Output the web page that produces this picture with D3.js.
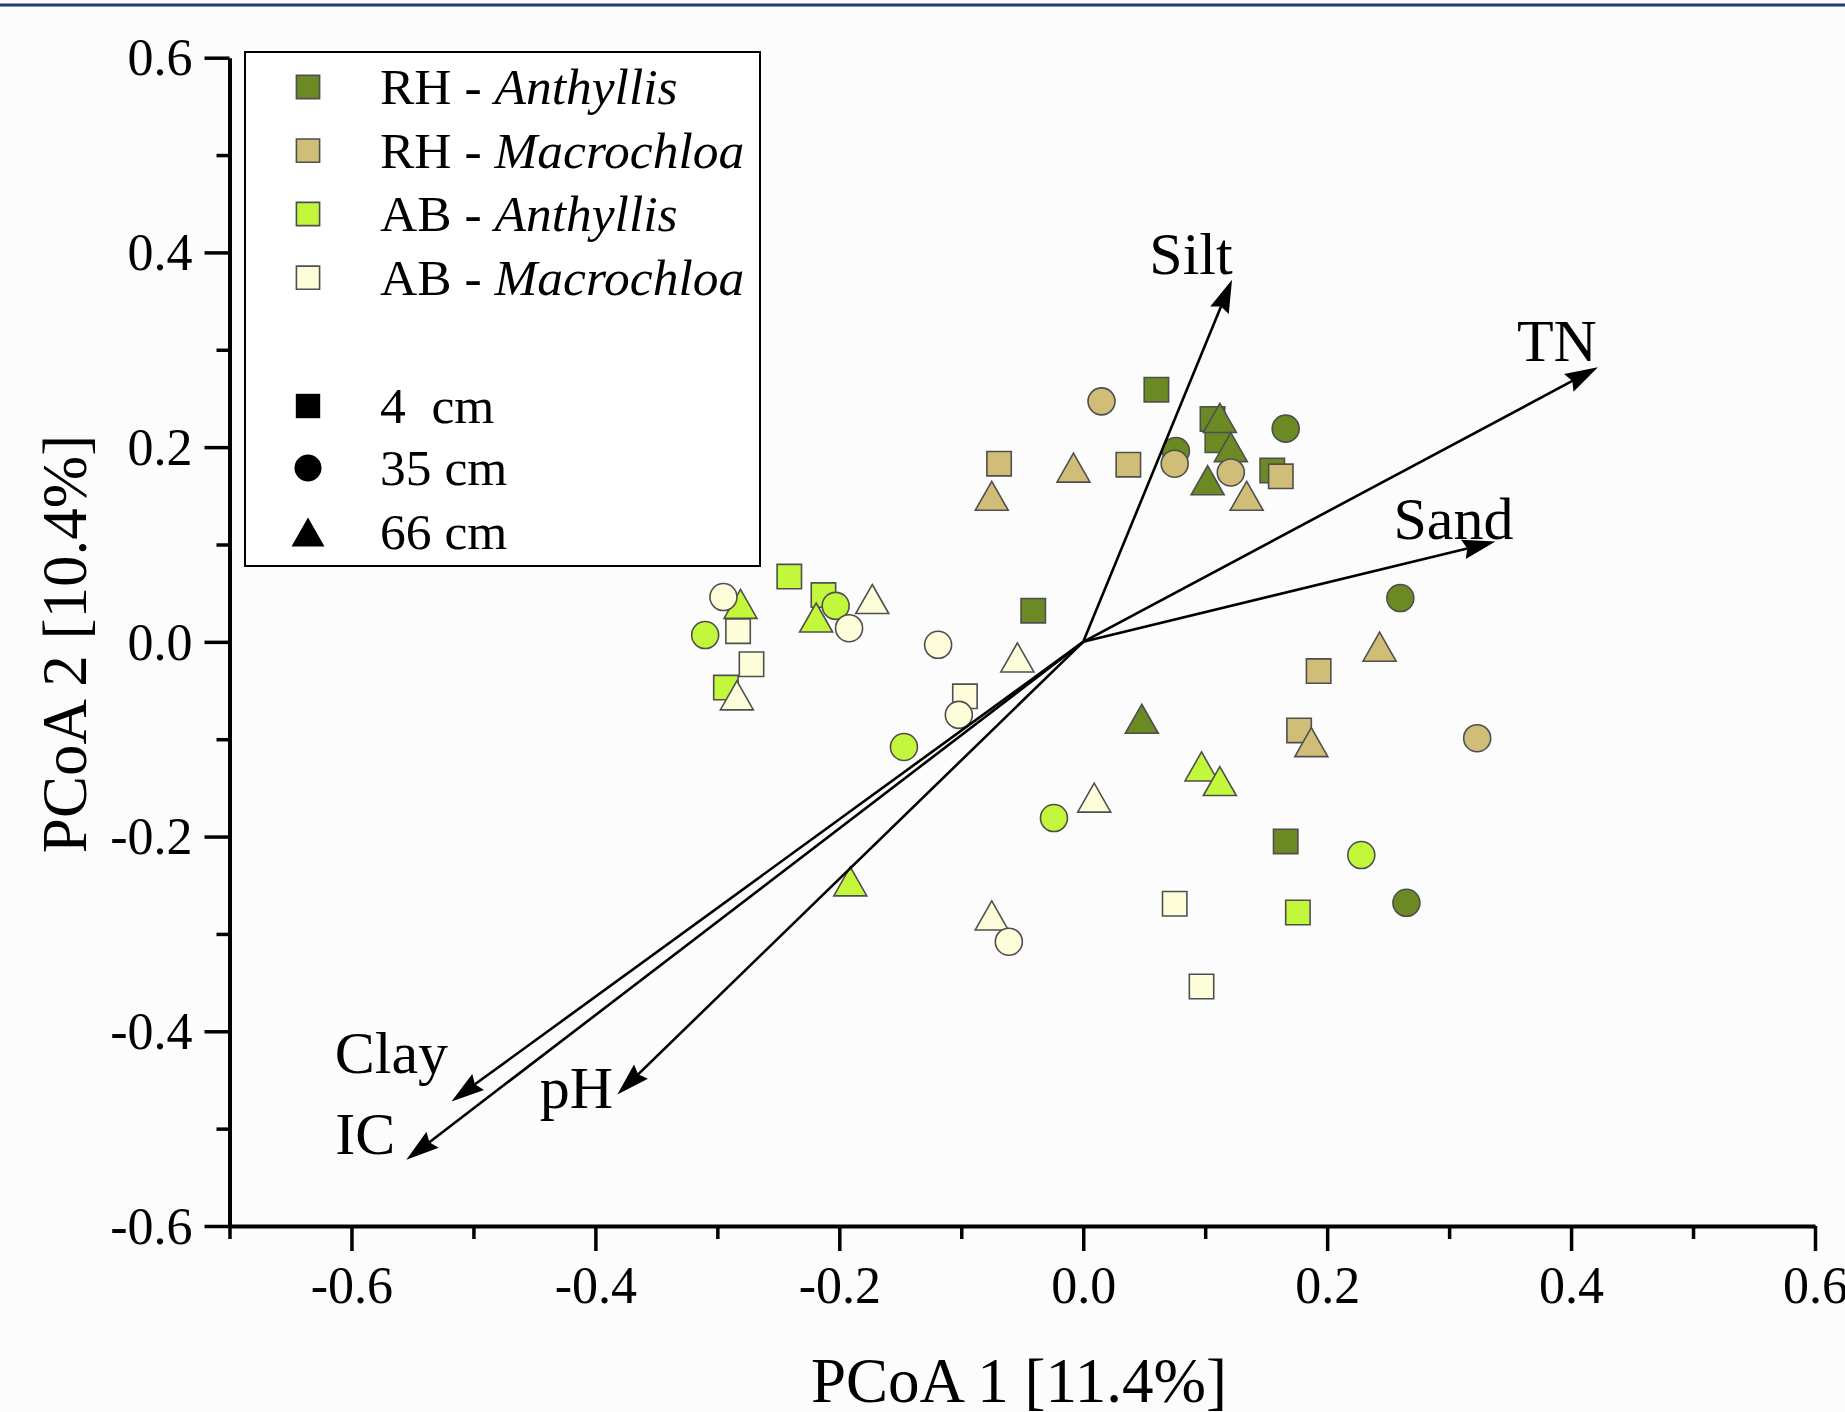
<!DOCTYPE html>
<html>
<head>
<meta charset="utf-8">
<script src="https://cdn.jsdelivr.net/npm/d3@7"></script>
<style>
html, body { margin: 0; padding: 0; background: #fcfcfc; }
svg { display: block; font-family: "Liberation Serif", "Times New Roman", serif; }
</style>
</head>
<body>
<svg id="chart" width="1845" height="1412"></svg>
<script>
// PCoA scores, [PCoA1, PCoA2, depth cm]
const rhAnthyllis = [
    [0.060, 0.259, 4], [0.106, 0.229, 4], [0.110, 0.207, 4], [0.155, 0.176, 4], [-0.041, 0.032, 4], [0.166, -0.205, 4],
    [0.076, 0.196, 35], [0.166, 0.219, 35], [0.260, 0.045, 35], [0.265, -0.268, 35],
    [0.112, 0.230, 66], [0.121, 0.200, 66], [0.102, 0.166, 66], [0.048, -0.079, 66]
];
const rhMacrochloa = [
    [-0.069, 0.183, 4], [0.037, 0.182, 4], [0.162, 0.170, 4], [0.193, -0.030, 4], [0.177, -0.091, 4],
    [-0.008, 0.179, 66], [-0.075, 0.150, 66], [0.134, 0.150, 66], [0.243, -0.005, 66], [0.187, -0.103, 66],
    [0.015, 0.247, 35], [0.075, 0.183, 35], [0.121, 0.174, 35], [0.323, -0.099, 35]
];
const abAnthyllis = [
    [-0.241, 0.067, 4], [-0.213, 0.048, 4], [-0.293, -0.047, 4], [0.176, -0.278, 4],
    [-0.203, 0.037, 35], [-0.310, 0.007, 35], [-0.147, -0.108, 35], [-0.024, -0.181, 35], [0.228, -0.219, 35],
    [-0.281, 0.039, 66], [-0.219, 0.025, 66], [-0.191, -0.246, 66], [0.097, -0.128, 66], [0.112, -0.143, 66]
];
const abMacrochloa = [
    [-0.283, 0.011, 4], [-0.272, -0.023, 4], [-0.097, -0.056, 4], [0.075, -0.269, 4], [0.097, -0.354, 4],
    [-0.173, 0.044, 66], [-0.054, -0.016, 66], [-0.284, -0.055, 66], [0.009, -0.160, 66], [-0.075, -0.281, 66],
    [-0.295, 0.046, 35], [-0.192, 0.014, 35], [-0.119, -0.003, 35], [-0.102, -0.075, 35], [-0.061, -0.308, 35]
];

// environmental vectors
const vectorNames = ["Silt", "TN", "Sand", "Clay", "IC", "pH"];
const vectorX = [0.122, 0.422, 0.338, -0.518, -0.555, -0.382];
const vectorY = [0.372, 0.282, 0.103, -0.472, -0.532, -0.465];

const groupNames = ["RH - ", "RH - ", "AB - ", "AB - "];
const groupPlants = ["Anthyllis", "Macrochloa", "Anthyllis", "Macrochloa"];
const depthLabels = ["4  cm", "35 cm", "66 cm"];
const depths = [4, 35, 66];

const xMajor = [-0.6, -0.4, -0.2, 0.0, 0.2, 0.4, 0.6];
const xMinor = [-0.7, -0.5, -0.3, -0.1, 0.1, 0.3, 0.5];
const yMajor = [-0.6, -0.4, -0.2, 0.0, 0.2, 0.4, 0.6];
const yMinor = [-0.5, -0.3, -0.1, 0.1, 0.3, 0.5];

const GROUP_FILL = ["#6b8a23", "#cfbd78", "#c2f73b", "#fdfdd9"];
const MARKER_STROKE = "#4f4f4f";

const svg = d3.select("#chart");

// frame line on top
svg.append("line")
    .attr("x1", 0).attr("x2", 1845).attr("y1", 5).attr("y2", 5)
    .attr("stroke", "#1f3b78").attr("stroke-width", 3);

const x = d3.scaleLinear().domain([-0.7, 0.6]).range([229.5, 1815]);
const y = d3.scaleLinear().domain([-0.6, 0.6]).range([1226, 57.7]);

// marker path builders, centred at 0,0
function shapePath(depth, k) {
    k = k || 1;
    if (depth === 4) {
        const h = 12.2 * k;
        return `M${-h},${-h}H${h}V${h}H${-h}Z`;
    }
    if (depth === 35) {
        const r = 13.5 * k;
        return `M${r},0A${r},${r} 0 1,1 ${-r},0A${r},${r} 0 1,1 ${r},0Z`;
    }
    const w = 16.5 * k, hh = 14.5 * k;
    return `M0,${-hh}L${w},${hh}L${-w},${hh}Z`;
}

// axes
const fmt = d => d.toFixed(1);

const yAxis = svg.append("g")
    .attr("transform", `translate(${x(-0.7)},0)`)
    .call(d3.axisLeft(y).tickValues(yMajor).tickSize(25).tickSizeOuter(0).tickFormat(fmt));
svg.append("g")
    .attr("transform", `translate(${x(-0.7)},0)`)
    .call(d3.axisLeft(y).tickValues(yMinor).tickSize(13).tickSizeOuter(0).tickFormat(""))
    .call(g => g.select(".domain").remove());

const xAxis = svg.append("g")
    .attr("transform", `translate(0,${y(-0.6)})`)
    .call(d3.axisBottom(x).tickValues(xMajor).tickSize(25).tickSizeOuter(0).tickFormat(fmt));
svg.append("g")
    .attr("transform", `translate(0,${y(-0.6)})`)
    .call(d3.axisBottom(x).tickValues(xMinor).tickSize(13).tickSizeOuter(0).tickFormat(""))
    .call(g => g.select(".domain").remove());

svg.selectAll(".domain").attr("stroke", "#000").attr("stroke-width", 4);
svg.selectAll(".tick line").attr("stroke", "#000").attr("stroke-width", 3.5);
svg.selectAll(".tick text")
    .attr("font-family", "Liberation Serif, Times New Roman, serif")
    .attr("font-size", 52).attr("fill", "#000");
yAxis.selectAll(".tick text").attr("x", -37).attr("dy", "0.33em");
xAxis.selectAll(".tick text").attr("y", 77).attr("dy", 0);

// axis titles
svg.append("text")
    .attr("x", 1019).attr("y", 1402)
    .attr("text-anchor", "middle").attr("font-size", 63)
    .text("PCoA 1 [11.4%]");
svg.append("text")
    .attr("transform", "translate(86,644) rotate(-90)")
    .attr("text-anchor", "middle").attr("font-size", 63)
    .text("PCoA 2 [10.4%]");

// points
const groups = [rhAnthyllis, rhMacrochloa, abAnthyllis, abMacrochloa];
const pointLayer = svg.append("g");
groups.forEach((pts, gi) => {
    pointLayer.append("g").selectAll("path")
        .data(pts)
        .join("path")
        .attr("transform", d => `translate(${x(d[0])},${y(d[1])})`)
        .attr("d", d => shapePath(d[2]))
        .attr("fill", GROUP_FILL[gi])
        .attr("stroke", MARKER_STROKE)
        .attr("stroke-width", 1.6);
});

// vectors
const labelOffset = {
    Silt: [-41, -6], TN: [-41, -6], Sand: [-42, -3],
    Clay: [-60, -28], IC: [-41, -6], pH: [-41, 13]
};
const HEAD_LEN = 33, HEAD_HALF = 10, HEAD_NOTCH = 4;
const vecLayer = svg.append("g");
vectorNames.forEach((name, i) => {
    const x0 = x(0), y0 = y(0);
    const x1 = x(vectorX[i]), y1 = y(vectorY[i]);
    const dx = x1 - x0, dy = y1 - y0;
    const len = Math.sqrt(dx * dx + dy * dy);
    const ux = dx / len, uy = dy / len;
    const bx = x1 - ux * (HEAD_LEN - HEAD_NOTCH), by = y1 - uy * (HEAD_LEN - HEAD_NOTCH);

    vecLayer.append("line")
        .attr("x1", x0).attr("y1", y0).attr("x2", bx).attr("y2", by)
        .attr("stroke", "#000").attr("stroke-width", 2.6);

    const px = -uy, py = ux;
    const cx = x1 - ux * HEAD_LEN, cy = y1 - uy * HEAD_LEN;
    const head = d3.path();
    head.moveTo(x1, y1);
    head.lineTo(cx + px * HEAD_HALF, cy + py * HEAD_HALF);
    head.lineTo(bx, by);
    head.lineTo(cx - px * HEAD_HALF, cy - py * HEAD_HALF);
    head.closePath();
    vecLayer.append("path").attr("d", head.toString()).attr("fill", "#000");

    const off = labelOffset[name];
    vecLayer.append("text")
        .attr("x", x1 + off[0]).attr("y", y1 + off[1])
        .attr("text-anchor", "middle").attr("font-size", 60)
        .text(name);
});

// legend
const legend = svg.append("g");
legend.append("rect")
    .attr("x", 245).attr("y", 52).attr("width", 515).attr("height", 514)
    .attr("fill", "#ffffff").attr("stroke", "#000").attr("stroke-width", 2);

const speciesRows = [87, 150.6, 214, 277.7];
groupNames.forEach((g, i) => {
    legend.append("path")
        .attr("transform", `translate(308,${speciesRows[i]})`)
        .attr("d", shapePath(4, 0.95))
        .attr("fill", GROUP_FILL[i]).attr("stroke", MARKER_STROKE).attr("stroke-width", 1.6);
    const t = legend.append("text")
        .attr("x", 380).attr("y", speciesRows[i] + 17)
        .attr("font-size", 51.5);
    t.append("tspan").text(g).attr("xml:space", "preserve").style("white-space", "pre");
    t.append("tspan").attr("font-style", "italic").text(groupPlants[i]);
});

const depthRows = [406, 468, 532];
depthLabels.forEach((lab, i) => {
    legend.append("path")
        .attr("transform", `translate(308,${depthRows[i]})`)
        .attr("d", shapePath(depths[i], 1.0))
        .attr("fill", "#000");
    legend.append("text")
        .attr("x", 380).attr("y", depthRows[i] + 17)
        .attr("font-size", 51.5)
        .style("white-space", "pre")
        .text(lab);
});
</script>
</body>
</html>
